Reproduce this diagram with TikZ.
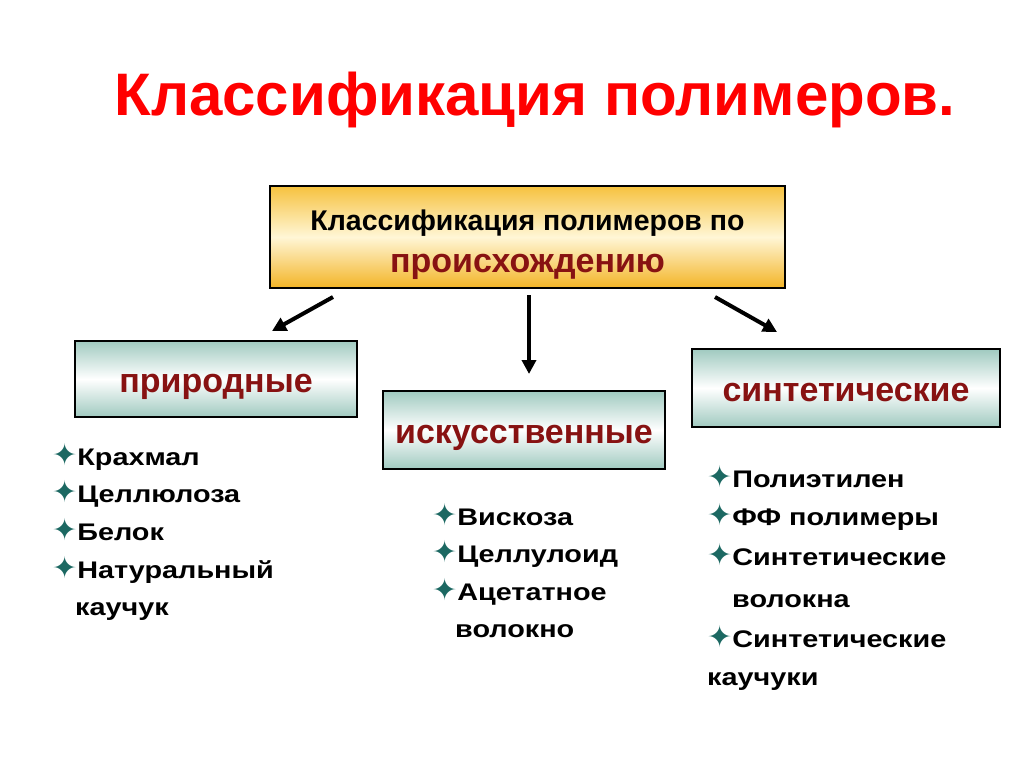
\documentclass[tikz,border=0pt]{standalone}
\usepackage{fontspec}
\setmainfont{Liberation Sans}
\newfontfamily\symfont{DejaVu Sans}
\newfontfamily\listfont[FakeStretch=1.2]{Liberation Sans}
\usetikzlibrary{positioning,arrows.meta}

\definecolor{titlered}{RGB}{255,0,0}
\definecolor{darkred}{RGB}{135,18,18}
\definecolor{bulteal}{RGB}{28,104,98}
\definecolor{boxteal}{RGB}{160,202,192}
\definecolor{goldtop}{RGB}{246,194,62}
\definecolor{goldmid}{RGB}{255,246,214}
\definecolor{goldbot}{RGB}{243,180,38}

\newcommand{\bul}{{\symfont\color{bulteal}\fontsize{30}{30}\selectfont ✦}}

\begin{document}
\begin{tikzpicture}[
  x=1pt, y=-1pt,
  kind/.style={draw=black, line width=2.5pt, inner sep=0pt,
    text height=26pt, text depth=0pt,
    top color=boxteal, bottom color=boxteal, middle color=white,
    text=darkred, font=\bfseries\fontsize{34}{36}\selectfont},
  item/.style={anchor=base west, inner sep=0pt, font=\listfont\bfseries\fontsize{24}{26}\selectfont},
  arr/.style={-{Triangle[length=14pt,width=14pt]}, line width=4pt}
]
  \useasboundingbox (0,0) rectangle (1024,767);

  \node[text=titlered, font=\bfseries\fontsize{60}{66}\selectfont] (title) at (535,100) {Классификация полимеров.};

  % main box
  \node[draw=black, line width=2.5pt, minimum width=515pt, minimum height=102pt,
    top color=goldtop, bottom color=goldbot, middle color=goldmid,
    align=center, inner sep=0pt] (main) at (527.5,237)
    {\bfseries\fontsize{28.5}{30}\selectfont\rule{0pt}{36pt}Классификация полимеров по\\[16pt]
     \color{darkred}\bfseries\fontsize{34}{36}\selectfont происхождению};

  % three kinds
  \node[kind, minimum width=282pt, minimum height=76pt] (nat) at (216,379) {природные};
  \node[kind, minimum width=282pt, minimum height=78pt] (art) at (524,430) {искусственные};
  \node[kind, minimum width=308pt, minimum height=78pt] (syn) at (846,388) {синтетические};

  \coordinate (a1) at (333,297); \coordinate (b1) at (272,331);
  \coordinate (a2) at (529,295); \coordinate (b2) at (529,374);
  \coordinate (a3) at (715,297); \coordinate (b3) at (777,332);
  \draw[arr] (a1) -- (b1);
  \draw[arr] (a2) -- (b2);
  \draw[arr] (a3) -- (b3);

  % lists
  \foreach \y/\t [count=\i] in {465/{\bul Крахмал}, 502/{\bul Целлюлоза}, 540/{\bul Белок},
      578/{\bul Натуральный}, 615/{\hspace{23pt}каучук}}
    \node[item] (natl\i) at (52,\y) {\t};

  \foreach \y/\t [count=\i] in {525/{\bul Вискоза}, 562/{\bul Целлулоид}, 600/{\bul Ацетатное},
      637/{\hspace{23pt}волокно}}
    \node[item] (artl\i) at (432,\y) {\t};

  \foreach \y/\t [count=\i] in {487/{\bul Полиэтилен}, 525/{\bul ФФ полимеры}, 565/{\bul Синтетические},
      607/{\hspace{25pt}волокна}, 647/{\bul Синтетические}, 685/{каучуки}}
    \node[item] (synl\i) at (707,\y) {\t};
\end{tikzpicture}
\end{document}
